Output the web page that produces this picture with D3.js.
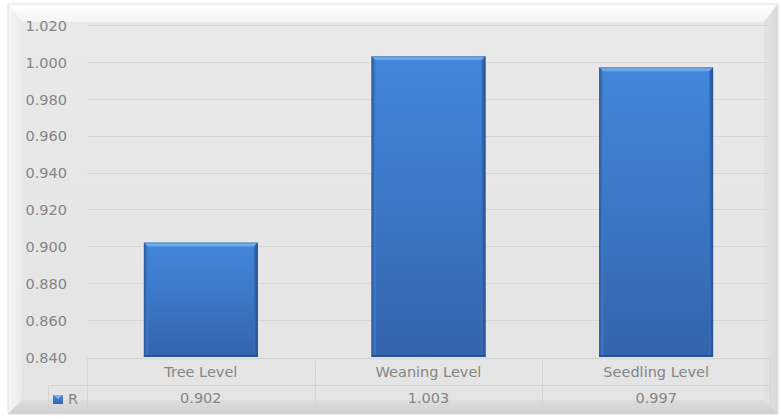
<!DOCTYPE html>
<html><head><meta charset="utf-8">
<script src="https://cdn.jsdelivr.net/npm/d3@7"></script>
<style>html,body{margin:0;padding:0;background:#fff;}svg{display:block;}</style>
</head><body>
<svg id="c" width="781" height="419"></svg>
<script>
const categories = ["Tree Level", "Weaning Level", "Seedling Level"];
const values = [0.902, 1.003, 0.997];
const valueLabels = ["0.902", "1.003", "0.997"];
const seriesName = "R";
const yTicks = [0.84, 0.86, 0.88, 0.90, 0.92, 0.94, 0.96, 0.98, 1.00, 1.02];

const svg = d3.select("#c");
const defs = svg.append("defs");
const W = 781, H = 419;
const font = "'DejaVu Sans', sans-serif";
const txt = "#858585";

// frame gradients
function lg(id, x1, y1, x2, y2, stops) {
  const g = defs.append("linearGradient").attr("id", id)
    .attr("x1", x1).attr("y1", y1).attr("x2", x2).attr("y2", y2);
  stops.forEach(s => g.append("stop").attr("offset", s[0]).attr("stop-color", s[1]));
}
lg("face", 0, 0, 0, 1, [[0, "#e9e9e9"], [1, "#e4e4e4"]]);
lg("bt", 0, 0, 0, 1, [[0, "#ffffff"], [1, "#f4f4f4"]]);
lg("bl", 0, 0, 1, 0, [[0, "#f6f6f6"], [1, "#ebebeb"]]);
lg("br", 0, 0, 1, 0, [[0, "#e2e2e2"], [1, "#d9d9d9"]]);
lg("bb", 0, 0, 0, 1, [[0, "#dedede"], [1, "#cfcfcf"]]);
lg("barG", 0, 0, 0, 1, [[0, "#4287dc"], [0.5, "#3b77c6"], [1, "#3463aa"]]);
lg("barTop", 0, 0, 0, 1, [[0, "#8cc0f4"], [1, "#5c9ce6"]]);
lg("barL", 0, 0, 1, 0, [[0, "#2f5da0"], [1, "#3f7fd2"]]);
lg("barR", 0, 0, 1, 0, [[0, "#3a72c0"], [1, "#244e8c"]]);

const fx0 = 8, fy0 = 4, fx1 = 778, fy1 = 414, bw = 14;
svg.append("rect").attr("x", fx0).attr("y", fy0).attr("width", fx1 - fx0).attr("height", fy1 - fy0).attr("fill", "url(#face)");
const poly = (pts, fill) => svg.append("polygon").attr("points", pts.map(p => p.join(",")).join(" ")).attr("fill", fill);
poly([[fx0, fy0], [fx1, fy0], [fx1 - bw, fy0 + 18], [fx0 + bw, fy0 + 18]], "url(#bt)");
poly([[fx0, fy0], [fx0 + bw, fy0 + 18], [fx0 + bw, fy1 - bw], [fx0, fy1]], "url(#bl)");
poly([[fx1, fy0], [fx1, fy1], [fx1 - bw, fy1 - bw], [fx1 - bw, fy0 + 18]], "url(#br)");
poly([[fx0, fy1], [fx0 + bw, fy1 - bw], [fx1 - bw, fy1 - bw], [fx1, fy1]], "url(#bb)");
svg.append("rect").attr("x", fx0).attr("y", fy0).attr("width", fx1 - fx0).attr("height", fy1 - fy0)
  .attr("fill", "none").attr("stroke", "#e0e0e0").attr("stroke-width", 1);

// scales
const x = d3.scaleBand().domain(categories).range([87, 770]).paddingInner(0.5).paddingOuter(0.25);
const y = d3.scaleLinear().domain([0.84, 1.02]).range([357, 25]);

// grid
svg.append("g").selectAll("line").data(yTicks.slice(1)).join("line")
  .attr("x1", 87).attr("x2", 770)
  .attr("y1", d => Math.round(y(d)) + 0.5).attr("y2", d => Math.round(y(d)) + 0.5)
  .attr("stroke", "#d6d6d6").attr("stroke-width", 1);

// y axis
const yAxis = svg.append("g").attr("transform", "translate(67,0)")
  .call(d3.axisLeft(y).tickValues(yTicks).tickFormat(d3.format(".3f")).tickSize(0).tickPadding(0));
yAxis.select(".domain").remove();
yAxis.selectAll("text").attr("fill", txt).attr("font-family", font).attr("font-size", 14.5).attr("dy", "0.36em");

// bars
const e = 4;
const bars = svg.append("g").selectAll("g").data(values).join("g");
bars.each(function (v, i) {
  const g = d3.select(this);
  const x0 = x(categories[i]), x1 = x0 + x.bandwidth();
  const y0 = y(v), y1 = y(0.84);
  g.append("rect").attr("x", x0).attr("y", y0).attr("width", x1 - x0).attr("height", y1 - y0).attr("fill", "url(#barG)");
  g.append("polygon").attr("points", [[x0, y0], [x1, y0], [x1 - e, y0 + e], [x0 + e, y0 + e]].map(p => p.join(",")).join(" ")).attr("fill", "url(#barTop)");
  g.append("polygon").attr("points", [[x0, y0], [x0 + e, y0 + e], [x0 + e, y1], [x0, y1]].map(p => p.join(",")).join(" ")).attr("fill", "url(#barL)");
  g.append("polygon").attr("points", [[x1, y0], [x1, y1], [x1 - e, y1], [x1 - e, y0 + e]].map(p => p.join(",")).join(" ")).attr("fill", "url(#barR)");
  g.append("rect").attr("x", x0).attr("y", y1 - 2).attr("width", x1 - x0).attr("height", 2).attr("fill", "#28508e");
  g.append("rect").attr("x", x0 + 0.5).attr("y", y0 + 0.5).attr("width", x1 - x0 - 1).attr("height", y1 - y0 - 1)
    .attr("fill", "none").attr("stroke", "#2c5a9c").attr("stroke-opacity", 0.6);
});

// data table
const tl = "#d4d4d4";
const tg = svg.append("g").attr("stroke", tl).attr("stroke-width", 1).attr("fill", "none");
const step = x.step();
const bounds = categories.map(c => x(c) - step * x.paddingInner() / 2).concat([770]);
const b0 = Math.round(bounds[0]) + 0.5;
tg.append("line").attr("x1", b0).attr("x2", 770.5).attr("y1", 358.5).attr("y2", 358.5);
tg.append("line").attr("x1", 48.5).attr("x2", 770.5).attr("y1", 385.5).attr("y2", 385.5);
tg.append("line").attr("x1", 48.5).attr("x2", 48.5).attr("y1", 385.5).attr("y2", 409.5);
tg.append("line").attr("x1", 48.5).attr("x2", 770.5).attr("y1", 409.5).attr("y2", 409.5).attr("stroke-opacity", 0.5);
bounds.forEach(b => {
  const bx = Math.round(b) + 0.5;
  tg.append("line").attr("x1", bx).attr("x2", bx).attr("y1", 358.5).attr("y2", 409.5);
});

svg.append("g").selectAll("text").data(categories).join("text")
  .attr("x", d => x(d) + x.bandwidth() / 2).attr("y", 377)
  .attr("text-anchor", "middle").attr("fill", txt).attr("font-family", font).attr("font-size", 14.5)
  .text(d => d);
svg.append("g").selectAll("text").data(valueLabels).join("text")
  .attr("x", (d, i) => x(categories[i]) + x.bandwidth() / 2).attr("y", 403)
  .attr("text-anchor", "middle").attr("fill", txt).attr("font-family", font).attr("font-size", 14.5)
  .text(d => d);

// legend key
svg.append("rect").attr("x", 53).attr("y", 395).attr("width", 10).attr("height", 9).attr("fill", "url(#barG)");
svg.append("polygon").attr("points", "53,395 63,395 58,399").attr("fill", "#7fb4ee");
svg.append("text").attr("x", 68).attr("y", 404).attr("fill", txt).attr("font-family", font).attr("font-size", 14.5).text(seriesName);
</script>
</body></html>
